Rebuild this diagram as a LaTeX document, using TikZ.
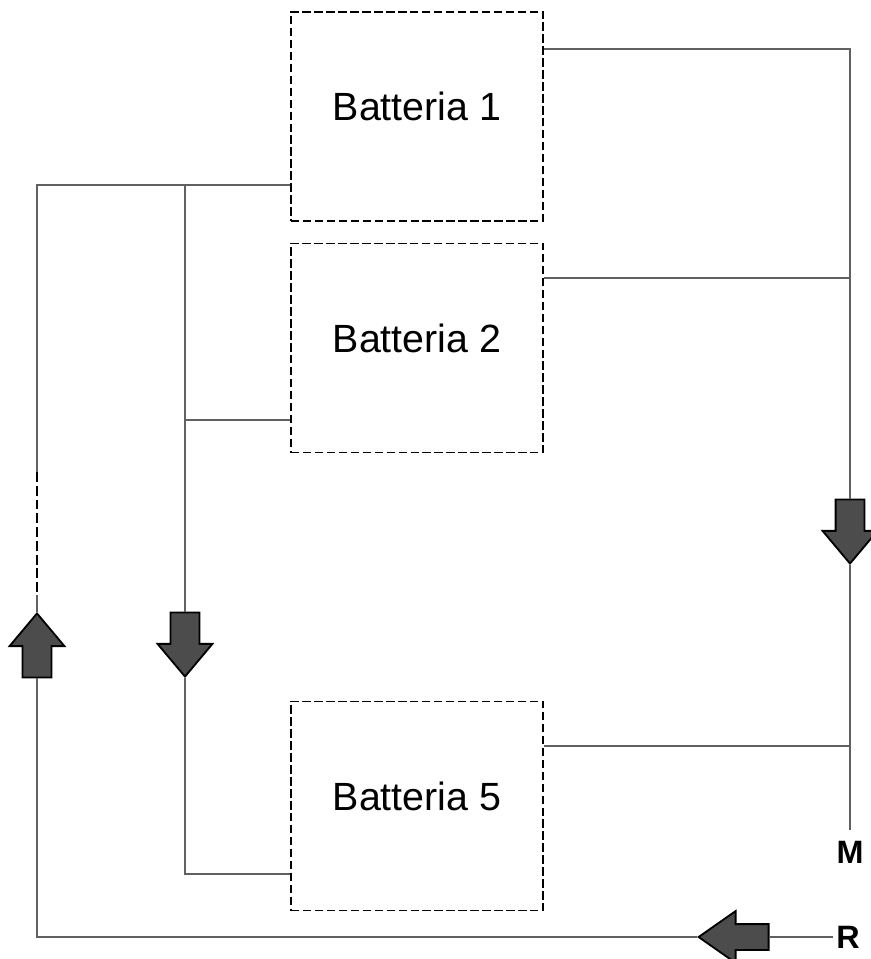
\documentclass[tikz,border=0pt]{standalone}
\usepackage{fontspec}
\newfontfamily\arialfont{Liberation Sans}
\usetikzlibrary{positioning,shapes.arrows}

\begin{document}
\begin{tikzpicture}[x=0.025cm,y=-0.025cm,
  batt/.style={draw=black,line width=1.2pt,dash pattern=on 6pt off 2.5pt,minimum width=6.3cm,minimum height=5.225cm,inner sep=0pt,text height=0.7cm,text depth=0.5cm,font=\arialfont\fontsize{28}{32}\selectfont},
  wire/.style={draw=black!62,line width=0.8pt},
  flowarrow/.style={single arrow,draw=black,line width=1.3pt,fill=black!70,minimum width=0pt,minimum height=1.6cm,inner xsep=0pt,inner ysep=0.3375cm,single arrow head extend=0.325cm,single arrow tip angle=80},
  tag/.style={font=\arialfont\bfseries\fontsize{23}{27}\selectfont,inner sep=0pt}]
\useasboundingbox (0,0) rectangle (870,959);
\node[batt] (b1) at (417,116.5) {Batteria 1};
\node[batt] (b2) at (417,348) {Batteria 2};
\node[batt] (b5) at (417,806) {Batteria 5};
\coordinate (lt) at (37,185);
\coordinate (jt) at (185,185);
\coordinate (j2) at (185,420);
\coordinate (j5) at (185,874);
\coordinate (lb) at (37,937);
\coordinate (rt) at (850,49);
\coordinate (r2) at (850,278);
\coordinate (r5) at (850,746);
\coordinate (dashtop) at (37,472);
\coordinate (dashbot) at (37,595);
\node[flowarrow,rotate=90,anchor=tip] (upL) at (37,612) {};
\node[flowarrow,rotate=-90,anchor=tip] (dnL) at (185,678) {};
\node[flowarrow,rotate=-90,anchor=tip] (dnR) at (850,565) {};
\node[flowarrow,rotate=180,anchor=tip,minimum height=1.75cm,inner ysep=0.3cm,single arrow tip angle=70] (ltR) at (697,937) {};
\node[tag,inner ysep=0.275cm] (M) at (850,852) {M};
\node[tag,inner xsep=0.075cm] (R) at (848,937) {R};
\draw[wire] (b1.west |- jt) -- (jt) -- (lt) -- (dashtop);
\draw[black,line width=1.3pt,dash pattern=on 7pt off 2.8pt] (dashtop) -- (dashbot);
\draw[wire] (dashbot) -- (upL.tip);
\draw[wire] (upL.tail) -- (lb) -- (ltR.tip);
\draw[wire] (ltR.tail) -- (R.west);
\draw[wire] (jt) -- (dnL.tail);
\draw[wire] (j2) -- (b2.west |- j2);
\draw[wire] (dnL.tip) -- (j5) -- (b5.west |- j5);
\draw[wire] (b1.east |- rt) -- (rt) -- (dnR.tail);
\draw[wire] (b2.east |- r2) -- (r2);
\draw[wire] (dnR.tip) -- (r5) -- (M.north);
\draw[wire] (b5.east |- r5) -- (r5);
\end{tikzpicture}
\end{document}
